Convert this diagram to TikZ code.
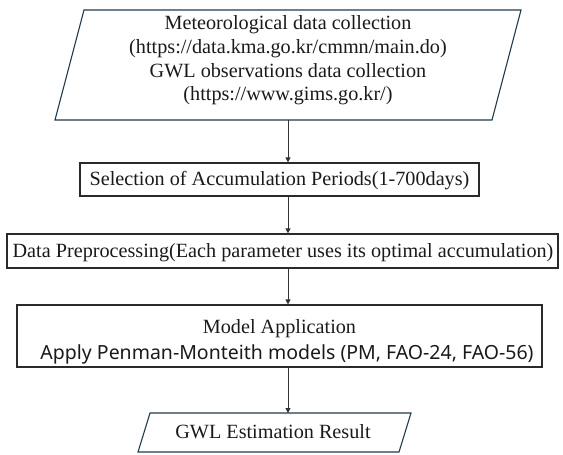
\documentclass[tikz,border=0pt]{standalone}
\usepackage{fontspec}
\setmainfont{Liberation Serif}
\newfontfamily\sansfont{Noto Sans}
\usetikzlibrary{arrows.meta}
\definecolor{paraline}{HTML}{1F3A4C}
\definecolor{arrowgray}{HTML}{333333}
\definecolor{boxline}{HTML}{2A2A2A}
\definecolor{inkcol}{HTML}{1A1A1A}
\tikzset{
  para/.style={draw=paraline, line width=1.1pt, line join=miter},
  stepbox/.style={draw=boxline, line width=1.2pt, rectangle, inner sep=0pt},
  label/.style={anchor=base, inner sep=0pt, text=inkcol, font=\fontsize{20.2}{24}\selectfont},
  sanslabel/.style={anchor=base, inner sep=0pt, text=inkcol, font=\sansfont\fontsize{19.5}{23}\selectfont},
  flow/.style={draw=arrowgray, line width=1pt, -{Triangle[length=5pt,width=5pt]}}
}
\begin{document}
\begin{tikzpicture}[x=1pt,y=-1pt]
  \useasboundingbox (0,0) rectangle (563,455);
  % x position shared by all connectors
  \coordinate (ax) at (288,0);

  % input: data collection (parallelogram)
  \coordinate (p1bl) at (55,120);
  \coordinate (p1tl) at (84,10);
  \coordinate (p1tr) at (521,10);
  \coordinate (p1br) at (492,120);
  \draw[para] (p1bl) -- (p1tl) -- (p1tr) -- (p1br) -- cycle;
  \node[label] (m1) at (288,29) {Meteorological data collection};
  \node[label] (m2) at (288,53) {(https://data.kma.go.kr/cmmn/main.do)};
  \node[label] (m3) at (288,77) {GWL observations data collection};
  \node[label] (m4) at (288,100) {(https://www.gims.go.kr/)};

  % process boxes
  \node[stepbox, minimum width=399pt, minimum height=33pt] (sel) at (279.5,179.5) {};
  \node[label] (selt) at (279.5,185.5) {Selection of Accumulation Periods(1-700days)};

  \node[stepbox, minimum width=551pt, minimum height=34pt] (pre) at (282.5,251) {};
  \node[label] (pret) at (283,257.5) {Data Preprocessing(Each parameter uses its optimal accumulation)};

  \node[stepbox, minimum width=525pt, minimum height=62pt] (mod) at (279.5,336) {};
  \node[label] (modt) at (279.5,333) {Model Application};
  \node[sanslabel] (mods) at (287,359) {Apply Penman-Monteith models (PM, FAO-24, FAO-56)};

  % output: result (parallelogram)
  \coordinate (p2bl) at (138,452);
  \coordinate (p2tl) at (150,413);
  \coordinate (p2tr) at (411,413);
  \coordinate (p2br) at (399,452);
  \draw[para] (p2bl) -- (p2tl) -- (p2tr) -- (p2br) -- cycle;
  \node[label] (res) at (273,438) {GWL Estimation Result};

  % connectors
  \draw[flow] (p1bl -| ax) -- (sel.north -| ax);
  \draw[flow] (sel.south -| ax) -- (pre.north -| ax);
  \draw[flow] (pre.south -| ax) -- (mod.north -| ax);
  \draw[flow] (mod.south -| ax) -- (p2tl -| ax);
\end{tikzpicture}
\end{document}
